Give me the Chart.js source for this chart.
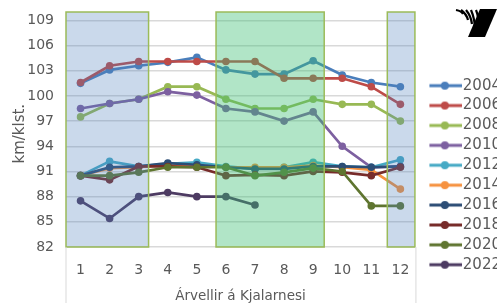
<!DOCTYPE html>
<html>
<head>
<meta charset="utf-8">
<script src="https://cdn.jsdelivr.net/npm/chart.js@4/dist/chart.umd.min.js"></script>
<style>
  html, body { margin: 0; padding: 0; background: #fff; overflow: hidden; }
  #wrap { width: 511px; height: 303px; }
</style>
</head>
<body>
<div id="wrap"><canvas id="speedChart"></canvas></div>
<script>
// Árvellir á Kjalarnesi - meðalhraði (km/klst.) eftir mánuðum
const months = ['1', '2', '3', '4', '5', '6', '7', '8', '9', '10', '11', '12'];
const years = ['2004', '2006', '2008', '2010', '2012', '2014', '2016', '2018', '2020', '2022'];

const v2004 = [101.5, 103.1, 103.6, 104.0, 104.6, 103.1, 102.6, 102.6, 104.2, 102.5, 101.6, 101.1];
const v2006 = [101.6, 103.6, 104.1, 104.1, 104.1, 104.1, 104.1, 102.1, 102.1, 102.1, 101.1, 99.0];
const v2008 = [97.5, 99.1, 99.6, 101.1, 101.1, 99.6, 98.5, 98.5, 99.6, 99.0, 99.0, 97.0];
const v2010 = [98.5, 99.1, 99.6, 100.5, 100.1, 98.5, 98.1, 97.0, 98.1, 94.0, 91.5, 91.6];
const v2012 = [90.5, 92.2, 91.6, 91.9, 92.1, 91.6, 91.3, 91.5, 92.1, 91.6, 91.5, 92.4];
const v2014 = [90.5, 91.4, 91.5, 91.8, 91.7, 91.5, 91.5, 91.5, 91.7, 91.5, 91.2, 88.9];
const v2016 = [90.5, 91.5, 91.6, 92.0, 91.8, 91.5, 91.3, 91.3, 91.6, 91.6, 91.5, 91.6];
const v2018 = [90.5, 90.0, 91.6, 91.6, 91.5, 90.5, 90.6, 90.5, 91.0, 90.9, 90.5, 91.5];
const v2020 = [90.5, 90.5, 90.9, 91.5, 91.5, 91.5, 90.5, 90.9, 91.4, 91.0, 86.9, 86.9];
const v2022 = [87.5, 85.4, 88.0, 88.5, 88.0, 88.0, 87.0, null, null, null, null, null];

const yTicks = [82, 85, 88, 91, 94, 97, 100, 103, 106, 109];

// shaded month ranges (in month units)
const shadeFrom = [0.5, 5.66, 11.55];
const shadeTo = [3.34, 9.38, 12.5];
const shadeFill = ['rgba(79,129,189,0.30)', 'rgba(60,190,115,0.40)', 'rgba(79,129,189,0.30)'];

const colors = ['#4a7ebb', '#be4b48', '#98b954', '#7d60a0', '#46aac5', '#f69240',
                '#2c4d75', '#772c2a', '#5f7530', '#4d3b62'];
const series = [v2004, v2006, v2008, v2010, v2012, v2014, v2016, v2018, v2020, v2022];

function legendIcon(color) {
  const c = document.createElement('canvas');
  c.width = 34; c.height = 10;
  const g = c.getContext('2d');
  g.strokeStyle = color; g.lineWidth = 3;
  g.beginPath(); g.moveTo(0, 5); g.lineTo(34, 5); g.stroke();
  g.fillStyle = color;
  g.beginPath(); g.arc(17, 5, 4, 0, Math.PI * 2); g.fill();
  return c;
}

const decor = {
  id: 'decor',
  afterDatasetsDraw(chart) {
    const {ctx, scales: {x, y}} = chart;
    const top = y.getPixelForValue(110);
    const bottom = y.getPixelForValue(82);
    ctx.save();
    shadeFrom.forEach((f, i) => {
      const l = x.getPixelForValue(f - 1);
      const r = x.getPixelForValue(shadeTo[i] - 1);
      ctx.fillStyle = shadeFill[i];
      ctx.fillRect(l, top, r - l, bottom - top);
      ctx.strokeStyle = '#9bbb59';
      ctx.lineWidth = 1.5;
      ctx.strokeRect(l, top, r - l, bottom - top);
    });
    ctx.restore();
  },
  afterDraw(chart) {
    const {ctx, chartArea} = chart;
    ctx.save();
    // thin frame lines under the plot
    ctx.strokeStyle = '#d9d9d9';
    ctx.lineWidth = 1;
    ctx.beginPath();
    ctx.moveTo(chartArea.left, chartArea.bottom); ctx.lineTo(chartArea.left, chart.height);
    ctx.moveTo(chartArea.right + 1, chartArea.bottom); ctx.lineTo(chartArea.right + 1, chart.height);
    ctx.stroke();
    // logo
    ctx.fillStyle = '#000';
    ctx.beginPath();
    ctx.moveTo(480, 9); ctx.lineTo(497, 9); ctx.lineTo(485, 37); ctx.lineTo(468, 37);
    ctx.closePath(); ctx.fill();
    ctx.lineWidth = 2.2;
    ctx.strokeStyle = '#000';
    [[456, 10, 463, 14], [461, 10, 468, 20], [466, 10, 472, 24], [471, 10, 475, 30], [476, 10, 478, 26]].forEach(s => {
      ctx.beginPath();
      ctx.moveTo(s[0], s[1]);
      ctx.quadraticCurveTo((s[0] + s[2]) / 2 + 2, (s[1] + s[3]) / 2 - 1, s[2], s[3]);
      ctx.stroke();
    });
    ctx.restore();
  }
};

new Chart(document.getElementById('speedChart'), {
  type: 'line',
  data: {
    labels: months,
    datasets: series.map((d, i) => ({
      label: years[i],
      data: d,
      borderColor: colors[i],
      backgroundColor: colors[i],
      pointBackgroundColor: colors[i],
      pointBorderWidth: 0,
      pointRadius: 3.8,
      borderWidth: 2.7,
      tension: 0,
      fill: false,
      order: series.length - i
    }))
  },
  options: {
    responsive: true,
    maintainAspectRatio: false,
    animation: false,
    layout: { padding: { top: 13, right: 0, bottom: 0, left: 0 } },
    plugins: {
      tooltip: { enabled: false },
      legend: {
        position: 'right',
        align: 'center',
        title: { display: true, text: ' ', padding: { top: 20, bottom: 0 }, font: { size: 12 } },
        labels: {
          usePointStyle: true,
          pointStyleWidth: 21,
          boxHeight: 10,
          padding: 4.9,
          color: '#595959',
          font: { family: 'DejaVu Sans', size: 15 },
          generateLabels: (chart) => chart.data.datasets.map((ds, i) => ({
            text: ds.label,
            fillStyle: ds.borderColor,
            strokeStyle: ds.borderColor,
            fontColor: '#595959',
            pointStyle: legendIcon(ds.borderColor),
            lineWidth: 0,
            hidden: false,
            datasetIndex: i
          }))
        }
      }
    },
    scales: {
      x: {
        offset: true,
        grid: { display: false, drawTicks: false },
        border: { display: false },
        ticks: { color: '#595959', padding: 15, font: { family: 'DejaVu Sans', size: 14 } },
        title: {
          display: true,
          text: 'Árvellir á Kjalarnesi',
          color: '#595959',
          padding: { top: 11, bottom: -2 },
          font: { family: 'DejaVu Sans', size: 13.5 }
        },
        afterFit: (s) => { s.height = 56; }
      },
      y: {
        min: 82,
        max: 109,
        afterBuildTicks: (s) => { s.ticks = yTicks.map(v => ({ value: v })); },
        grid: { color: '#d9d9d9', lineWidth: 1.5, drawTicks: false },
        border: { display: false },
        ticks: { color: '#595959', padding: 12, font: { family: 'DejaVu Sans', size: 14 } },
        title: {
          display: true,
          text: 'km/klst.',
          color: '#595959',
          padding: { top: 11, bottom: 0 },
          font: { family: 'DejaVu Sans', size: 15 }
        },
        afterFit: (s) => { s.width = 66; }
      },
      gap: {
        position: 'right',
        display: true,
        min: 0,
        max: 1,
        grid: { display: false },
        border: { display: false },
        ticks: { display: false },
        afterFit: (s) => { s.width = 14.5; }
      }
    }
  },
  plugins: [decor]
});
</script>
</body>
</html>
